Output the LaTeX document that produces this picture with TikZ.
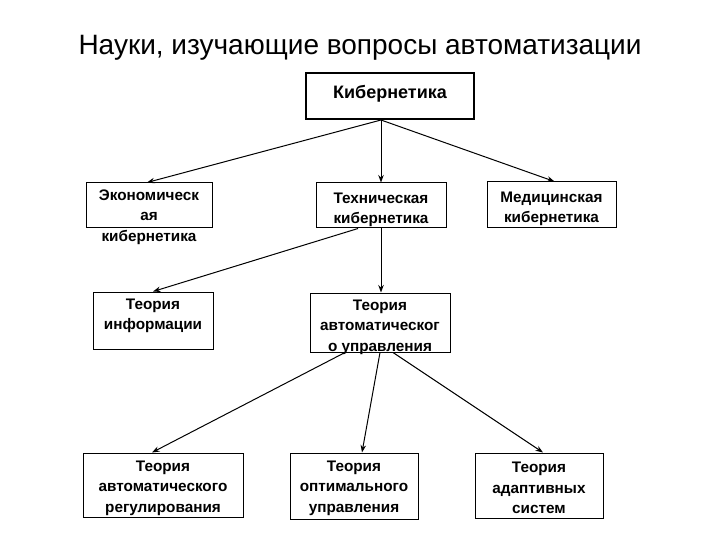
\documentclass[tikz,border=0pt]{standalone}
\usepackage{fontspec}
\setmainfont{Liberation Sans}
\usetikzlibrary{arrows.meta}
\begin{document}
\begin{tikzpicture}[x=1pt,y=-1pt,
  box/.style={draw=black,line width=1pt,inner sep=0pt,fill=none},
  txt/.style={font=\bfseries\fontsize{15.3}{20.5}\selectfont,align=center,inner sep=0pt},
  arr/.style={-{Stealth[length=7.5pt,width=5.5pt]},line width=1pt,black}]
\useasboundingbox[fill=white] (0,0) rectangle (720,540);
\node[anchor=base,font=\fontsize{28}{32}\selectfont] (title) at (360,55) {Науки, изучающие вопросы автоматизации};
% boxes
\node[box,line width=2pt,minimum width=168pt,minimum height=46pt] (kib) at (390,96) {};
\node[txt,font=\bfseries\fontsize{18}{20}\selectfont] (kibt) at (390,94) {Кибернетика};
\node[box,minimum width=126pt,minimum height=45pt] (eco) at (149,205.5) {};
\node[txt] (ecot) at (149,217) {Экономическ\\ая\\кибернетика};
\node[box,minimum width=130pt,minimum height=45pt] (tech) at (381,205.5) {};
\node[txt] (techt) at (381,210) {Техническая\\кибернетика};
\node[box,minimum width=129pt,minimum height=46pt] (med) at (551.5,205) {};
\node[txt] (medt) at (551.5,209) {Медицинская\\кибернетика};
\node[box,minimum width=120pt,minimum height=57pt] (info) at (153,320.5) {};
\node[txt] (infot) at (153,316) {Теория\\информации};
\node[box,minimum width=140pt,minimum height=59pt] (auto) at (380,322.5) {};
\node[txt] (autot) at (380,327) {Теория\\автоматическог\\о управления};
\node[box,minimum width=160pt,minimum height=64pt] (reg) at (163,485) {};
\node[txt] (regt) at (163,488) {Теория\\автоматического\\регулирования};
\node[box,minimum width=128pt,minimum height=66pt] (opt) at (354,486) {};
\node[txt] (optt) at (354,488) {Теория\\оптимального\\управления};
\node[box,minimum width=128pt,minimum height=65pt] (ada) at (539,485.5) {};
\node[txt] (adat) at (539,488) {Теория\\адаптивных\\систем};
% arrows
\coordinate (k0) at ([xshift=-9pt]kib.south);
\draw[arr] (k0) -- ([xshift=-2pt]eco.north);
\draw[arr] (k0) -- (tech.north);
\draw[arr] (k0) -- ([xshift=3pt]med.north);
\draw[arr] ([xshift=-23pt]tech.south) -- (info.north);
\draw[arr] (tech.south) -- ([xshift=1pt]auto.north);
\draw[arr] ([xshift=-35pt]auto.south) -- ([xshift=-11pt]reg.north);
\draw[arr] (auto.south) -- ([xshift=8pt]opt.north);
\draw[arr] ([xshift=13pt]auto.south) -- ([xshift=4pt]ada.north);
\end{tikzpicture}
\end{document}
